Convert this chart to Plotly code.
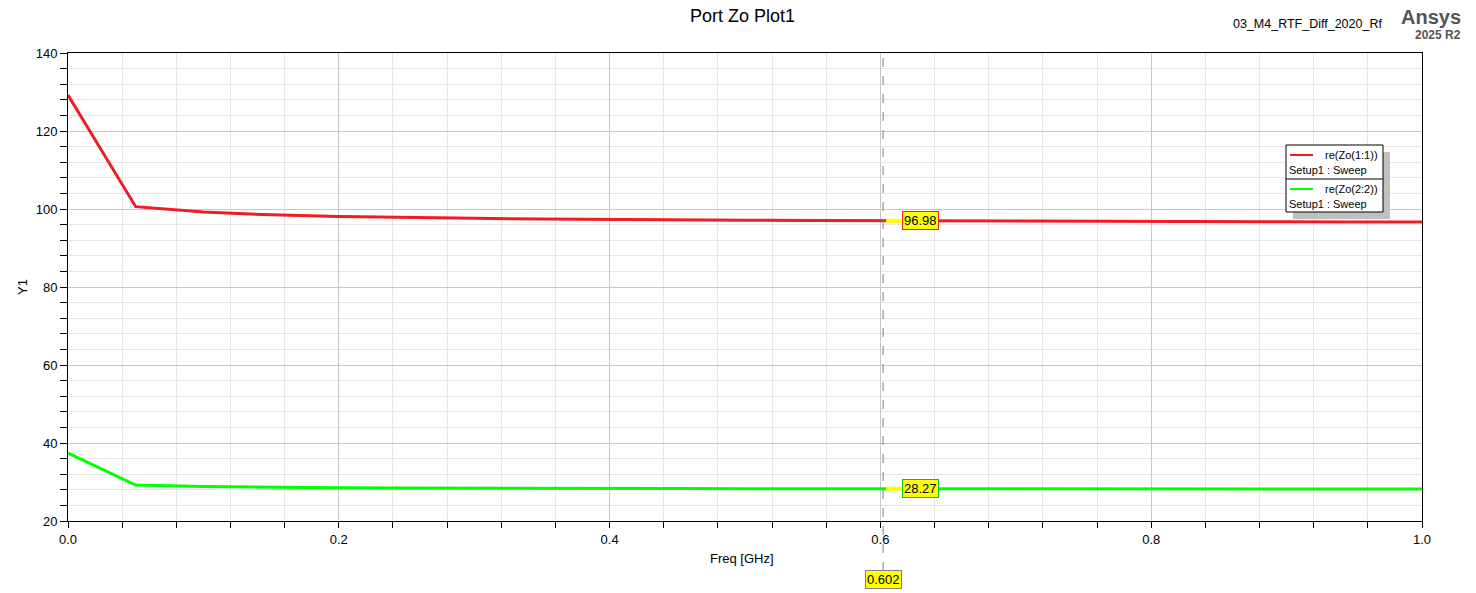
import plotly.graph_objects as go

freq = [0.0, 0.05, 0.1, 0.15, 0.2, 0.25, 0.3, 0.35, 0.4, 0.45, 0.5,
        0.55, 0.6, 0.65, 0.7, 0.75, 0.8, 0.85, 0.9, 0.95, 1.0]
zo11 = [129.2, 100.6, 99.2, 98.5, 98.1, 97.8, 97.6, 97.45, 97.3, 97.2, 97.12,
        97.05, 96.98, 96.93, 96.88, 96.84, 96.8, 96.76, 96.72, 96.69, 96.66]
zo22 = [37.4, 29.2, 28.85, 28.6, 28.5, 28.45, 28.38, 28.35, 28.33, 28.31, 28.3,
        28.28, 28.27, 28.26, 28.25, 28.24, 28.23, 28.22, 28.21, 28.2, 28.2]
marker_x = 0.602
marker_vals = [96.98, 28.27]
names = ["re(Zo(1:1))", "re(Zo(2:2))"]
setup = "Setup1 : Sweep"
colors = ["#ee1c24", "#00ff00"]
label_borders = ["#ee1c24", "#00cc00"]

FONT = "Liberation Sans, Arial, sans-serif"
fig = go.Figure()
fig.add_trace(go.Scatter(x=freq, y=zo11, mode="lines", line=dict(color=colors[0], width=3),
                         name=names[0], showlegend=False))
fig.add_trace(go.Scatter(x=freq, y=zo22, mode="lines", line=dict(color=colors[1], width=3),
                         name=names[1], showlegend=False))

W, H = 1476, 593
PL, PR, PT, PB = 68, 1422, 53, 521
L, R, T, B = PL, W - PR, PT, H - PB
pw, ph = PR - PL, PB - PT

def px(x):
    return (x - PL) / pw

def py(y):
    return (PB - y) / ph

shapes = []
annotations = []
# marker vertical dashed line
shapes.append(dict(type="line", xref="x", yref="paper", x0=marker_x, x1=marker_x,
                   y0=py(571), y1=1, line=dict(color="#808080", width=1, dash="dash"), layer="above"))
# marker labels
for v, bc in zip(marker_vals, label_borders):
    annotations.append(dict(x=marker_x, y=v, xref="x", yref="y", text=f"{v:.2f}",
                            showarrow=True, ax=37, ay=0, arrowhead=0, arrowwidth=4, standoff=3,
                            arrowcolor="#ffff00", bgcolor="#ffff00",
                            bordercolor=bc, borderwidth=1,
                            borderpad=1, font=dict(family=FONT, size=13, color="black")))
annotations.append(dict(x=marker_x, y=py(579), xref="x", yref="paper", text=f"{marker_x:.3f}",
                        showarrow=False, xanchor="center", yanchor="middle",
                        bgcolor="#ffff00", bordercolor="#808080", borderwidth=1,
                        borderpad=1, font=dict(family=FONT, size=13, color="black")))

# legend box with shadow
shapes.append(dict(type="rect", xref="paper", yref="paper", x0=px(1293), x1=px(1390),
                   y0=py(219), y1=py(152), fillcolor="#c0c0c0", line=dict(width=0), layer="above"))
shapes.append(dict(type="rect", xref="paper", yref="paper", x0=px(1286), x1=px(1383),
                   y0=py(212), y1=py(145), fillcolor="white", line=dict(color="black", width=1), layer="above"))
shapes.append(dict(type="line", xref="paper", yref="paper", x0=px(1286), x1=px(1383),
                   y0=py(179), y1=py(179), line=dict(color="black", width=1), layer="above"))
for i, (n, c) in enumerate(zip(names, colors)):
    y0 = 155 + 34 * i
    shapes.append(dict(type="line", xref="paper", yref="paper", x0=px(1290), x1=px(1313),
                       y0=py(y0), y1=py(y0), line=dict(color=c, width=2), layer="above"))
    annotations.append(dict(x=px(1323), y=py(y0), xref="paper", yref="paper", text=n,
                            xanchor="left", yanchor="middle", showarrow=False,
                            font=dict(family=FONT, size=11, color="black")))
    annotations.append(dict(x=px(1287), y=py(y0 + 15), xref="paper", yref="paper", text=setup,
                            xanchor="left", yanchor="middle", showarrow=False,
                            font=dict(family=FONT, size=11, color="black")))

# header texts
annotations.append(dict(x=px(1384), y=py(24), xref="paper", yref="paper", text="03_M4_RTF_Diff_2020_Rf",
                        showarrow=False, xanchor="right", yanchor="middle",
                        font=dict(family=FONT, size=12.5, color="black")))
annotations.append(dict(x=px(1463), y=py(17), xref="paper", yref="paper", text="<b>Ansys</b>",
                        showarrow=False, xanchor="right", yanchor="middle",
                        font=dict(family=FONT, size=20, color="#555555")))
annotations.append(dict(x=px(1463), y=py(35), xref="paper", yref="paper", text="<b>2025 R2</b>",
                        showarrow=False, xanchor="right", yanchor="middle",
                        font=dict(family=FONT, size=12, color="#555555")))
# axis titles
annotations.append(dict(x=px(742), y=py(558), xref="paper", yref="paper", text="Freq [GHz]",
                        showarrow=False, xanchor="center", yanchor="middle",
                        font=dict(family=FONT, size=13, color="black")))
annotations.append(dict(x=px(22), y=py(287), xref="paper", yref="paper", text="Y1", textangle=-90,
                        showarrow=False, xanchor="center", yanchor="middle",
                        font=dict(family=FONT, size=13, color="black")))
# title
annotations.append(dict(x=px(742), y=py(16), xref="paper", yref="paper", text="Port Zo Plot1",
                        showarrow=False, xanchor="center", yanchor="middle",
                        font=dict(family=FONT, size=18, color="black")))

fig.update_layout(
    width=W, height=H,
    margin=dict(l=L, r=R, t=T, b=B, autoexpand=False),
    paper_bgcolor="white", plot_bgcolor="white",
    font=dict(family=FONT, size=13, color="black"),
    shapes=shapes, annotations=annotations,
    showlegend=False,
)
fig.update_xaxes(range=[0, 1], dtick=0.2, tickformat=".1f", showline=True, linecolor="black",
                 linewidth=1, mirror=True, ticks="outside", ticklen=6, tickcolor="black",
                 showgrid=True, gridcolor="#c8c8c8", gridwidth=1, zeroline=False,
                 minor=dict(dtick=0.04, showgrid=True, gridcolor="#e6e6e6", ticks="outside",
                            ticklen=6, tickcolor="black"),
                 tickfont=dict(family=FONT, size=13))
fig.update_yaxes(range=[20, 140], dtick=20, showline=True, linecolor="black",
                 linewidth=1, mirror=True, ticks="outside", ticklen=7, tickcolor="black",
                 showgrid=True, gridcolor="#c8c8c8", gridwidth=1, zeroline=False,
                 minor=dict(dtick=4, showgrid=True, gridcolor="#e6e6e6", ticks="outside",
                            ticklen=7, tickcolor="black"),
                 tickfont=dict(family=FONT, size=13))

fig.write_html("out.html", config={"displayModeBar": False},
               post_script="document.body.style.margin='0';document.body.style.overflow='hidden';")
